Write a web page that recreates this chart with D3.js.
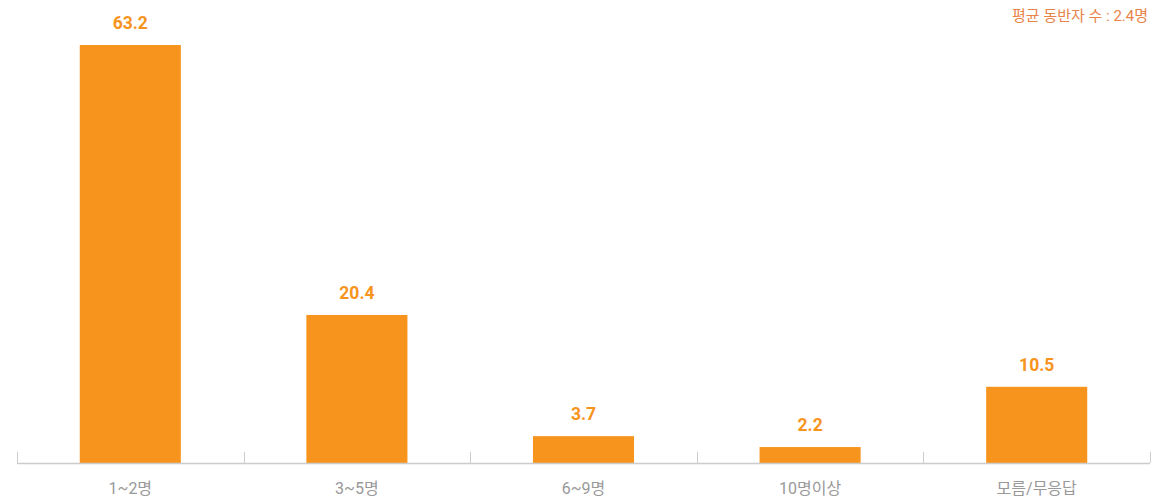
<!DOCTYPE html>
<html><head><meta charset="utf-8">
<script src="https://cdn.jsdelivr.net/npm/d3@7"></script>
<style>body{margin:0;background:#fff;}svg{display:block;}</style>
</head><body>
<svg id="c" width="1153" height="503"></svg>
<script>
const categories = ["1~2명", "3~5명", "6~9명", "10명이상", "모름/무응답"];
const values = [63.2, 20.4, 3.7, 2.2, 10.5];
const note = "평균 동반자 수 : 2.4명";

const svg = d3.select("#c");
const font = "Roboto, 'Noto Sans CJK KR', sans-serif";
const x = d3.scaleBand().domain(categories).range([17, 1150]).paddingInner(0).paddingOuter(0);
const y = d3.scaleLinear().domain([0, 57.6]).range([463, 45]).clamp(true);
const bw = x.bandwidth() * 0.446;

svg.selectAll("rect.bar").data(values).join("rect")
  .attr("class", "bar")
  .attr("x", (d, i) => x(categories[i]) + (x.bandwidth() - bw) / 2)
  .attr("y", d => y(d))
  .attr("width", bw)
  .attr("height", d => y(0) - y(d))
  .attr("fill", "#f7941d");

svg.selectAll("text.val").data(values).join("text")
  .attr("class", "val")
  .attr("x", (d, i) => x(categories[i]) + x.bandwidth() / 2)
  .attr("y", d => y(d) - 16)
  .attr("text-anchor", "middle")
  .attr("font-family", font).attr("font-weight", "bold").attr("font-size", 17.5)
  .attr("fill", "#f7941d")
  .text(d => d.toFixed(1));

const axis = svg.append("g");
axis.append("line").attr("x1", 17).attr("x2", 1150).attr("y1", 463.5).attr("y2", 463.5)
  .attr("stroke", "#cccccc").attr("stroke-width", 1.5);
const edges = categories.map(c => x(c)).concat([x.range()[1]]);
axis.selectAll("line.tk").data(edges).join("line").attr("class", "tk")
  .attr("x1", d => Math.round(d) + 0.5).attr("x2", d => Math.round(d) + 0.5)
  .attr("y1", 452).attr("y2", 463)
  .attr("stroke", "#cccccc").attr("stroke-width", 1);

svg.selectAll("text.cat").data(categories).join("text").attr("class", "cat")
  .attr("x", d => x(d) + x.bandwidth() / 2)
  .attr("y", 494)
  .attr("text-anchor", "middle")
  .attr("font-family", font).attr("font-size", 16)
  .attr("fill", "#999999")
  .text(d => d);

svg.append("text").attr("x", 1148).attr("y", 21)
  .attr("text-anchor", "end")
  .attr("font-family", font).attr("font-size", 15)
  .attr("fill", "#e8834a")
  .text(note);
</script>
</body></html>
